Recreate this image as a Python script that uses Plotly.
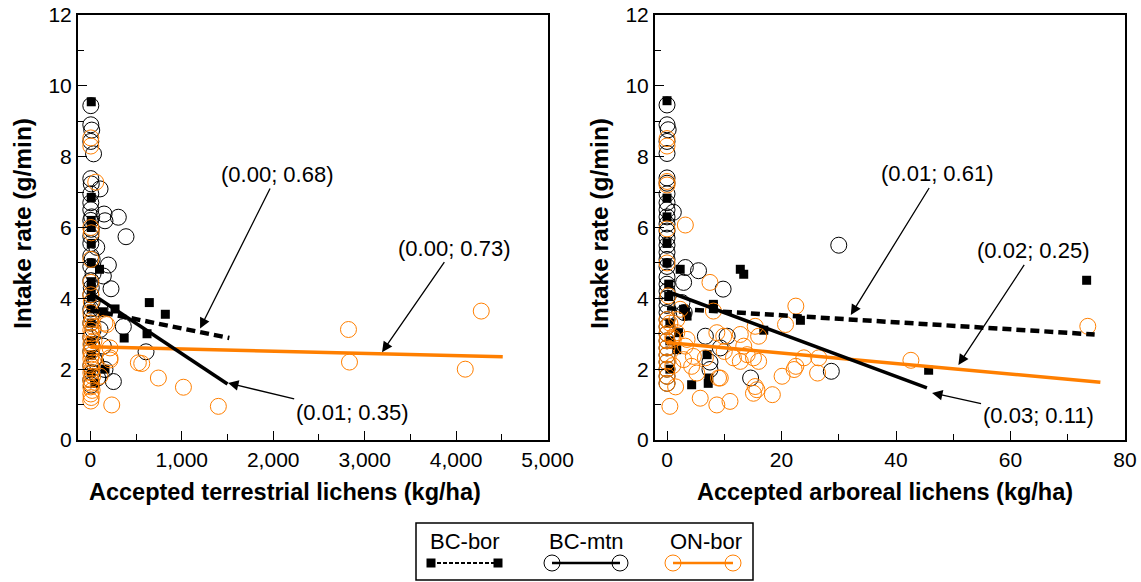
import plotly.graph_objects as go

W, H = 1141, 582
ORANGE = "#FF7F00"
FONT = "Liberation Sans, Arial, sans-serif"

# ---- Terrestrial lichens panel (kg/ha vs g/min) ----
terr_bcbor_x = [10, 10, 10, 10, 10, 100, 10, 10, 10, 140, 270, 645, 820, 370, 620, 160, 10, 10, 10, 10, 50, 10, 10]
terr_bcbor_y = [9.55, 6.85, 6.2, 5.55, 5.0, 4.82, 4.47, 4.05, 3.7, 3.62, 3.7, 3.88, 3.55, 2.88, 3.0, 2.0, 3.3, 2.8, 2.4, 1.9, 1.6, 4.3, 6.0]

terr_bcmtn_x = [5, 5, 15, 5, 35, 5, 10, 5, 5, 5, 15, 5, 10, 5, 5, 70, 5, 20, 5, 30, 5, 10, 5, 20, 5, 10, 5, 30, 5, 15, 5, 40, 5, 20, 5, 10,
                106, 150, 160, 306, 390, 197, 142, 226, 361, 609, 252, 160, 106, 106, 142, 60, 80]
terr_bcmtn_y = [9.44, 8.9, 8.75, 8.43, 8.08, 7.38, 7.23, 6.95, 6.7, 6.5, 6.3, 6.2, 5.95, 5.75, 5.55, 5.44, 5.2, 5.1, 4.9, 4.7, 4.5, 4.3, 4.1, 3.9, 3.7, 3.5, 3.3, 3.1, 2.9, 2.7, 2.5, 2.3, 2.1, 1.9, 1.7, 1.55,
                7.09, 6.38, 6.19, 6.29, 5.74, 4.94, 4.63, 4.27, 3.2, 2.49, 1.65, 1.99, 3.12, 3.7, 2.65, 2.2, 1.75]

terr_onbor_x = [5, 5, 59, 5, 10, 5, 5, 5, 10, 5, 20, 5, 30, 5, 15, 5, 40, 5, 20, 5, 10, 5, 30, 5, 15, 5, 25, 5, 10, 5, 20, 5, 10, 5,
                234, 525, 562, 744, 1018, 1400, 215, 215, 179, 2823, 2834, 4275, 4100, 160, 106, 215]
terr_onbor_y = [8.53, 8.3, 7.28, 6.0, 5.85, 5.1, 4.45, 4.1, 3.9, 3.6, 3.4, 3.3, 3.2, 3.1, 3.0, 2.9, 2.8, 2.7, 2.6, 2.5, 2.4, 2.3, 2.2, 2.1, 2.0, 1.9, 1.8, 1.7, 1.6, 1.5, 1.4, 1.3, 1.2, 1.1,
                0.99, 2.18, 2.16, 1.75, 1.49, 0.95, 2.32, 2.6, 3.26, 3.12, 2.2, 3.64, 2.0, 3.3, 1.8, 2.26]

# fitted lines: [x_start, x_end], [y_start, y_end]
terr_fit_bcbor = ([0, 1520], [3.67, 2.88])
terr_fit_bcmtn = ([0, 1500], [4.15, 1.58])
terr_fit_onbor = ([0, 4510], [2.63, 2.35])

# ---- Arboreal lichens panel ----
arb_bcbor_x = [0, 0, 0, 0, 0, 2.3, 0.3, 0.3, 2.9, 3.5, 8.1, 8.1, 12.8, 13.4, 16.9, 23.3, 7, 7.3, 7.2, 4.3, 2, 1.7, 73.3, 45.7, 0.5, 0.5, 0.5]
arb_bcbor_y = [9.58, 6.83, 6.3, 5.55, 5.0, 4.82, 4.4, 4.05, 3.69, 3.5, 3.83, 3.78, 4.82, 4.68, 3.1, 3.38, 2.41, 1.75, 1.6, 1.56, 3.03, 2.55, 4.51, 1.97, 3.3, 2.8, 2.0]

arb_bcmtn_x = [0, 0, 0.2, 0, 0, 0, 0, 0, 0, 0, 0, 0, 0, 0, 0, 0, 0, 0, 0, 0, 0, 0, 0, 0, 0, 0, 0, 0, 0, 0, 0, 0, 0, 0,
               1.1, 3.2, 5.5, 2.9, 9.8, 2.6, 6.7, 10.5, 9.3, 7.5, 7.5, 14.6, 28.7, 30, 3.0]
arb_bcmtn_y = [9.46, 8.9, 8.76, 8.43, 8.09, 7.4, 7.25, 6.95, 6.7, 6.5, 6.3, 6.1, 5.9, 5.7, 5.5, 5.3, 5.1, 4.9, 4.6, 4.4, 4.2, 4.0, 3.8, 3.6, 3.4, 3.2, 3.0, 2.8, 2.6, 2.4, 2.2, 2.0, 1.8, 1.6,
               6.43, 4.87, 4.78, 4.45, 4.26, 3.88, 2.93, 2.93, 2.6, 2.2, 1.99, 1.75, 1.94, 5.5, 3.6]

arb_onbor_x = [0, 0, 0, 0, 0, 0, 0.2, 0.5, 0, 0, 0, 0, 0, 0, 0, 0, 0, 0, 0.5, 1, 1, 1.5, 2.3, 1.7, 1.7, 1.1, 3.2, 7.5, 5.8, 8.7, 11,
               18.4, 15.7, 15.1, 20.1, 22.5, 22.5, 20.7, 16, 15.1, 12.8, 8.7, 8.1, 9, 11.6, 13.4, 14, 12.8, 4.6, 2.9, 3.2, 5.2, 4.3,
               15.4, 23.9, 26.5, 26.3, 22.2, 15.4, 6.7, 9.9, 3.5, 42.6, 73.5, 9.3, 16, 10]
arb_onbor_y = [8.51, 8.3, 7.3, 7.2, 5.96, 5.0, 4.07, 0.95, 3.4, 3.2, 3.0, 2.8, 2.6, 2.4, 2.2, 2.0, 1.8, 1.6, 3.3, 2.9, 2.1, 1.5, 3.69, 3.4, 3.03, 2.84, 6.07, 4.45, 1.18, 0.99, 1.09,
               1.28, 1.42, 1.32, 1.8, 2.08, 3.78, 3.26, 2.93, 2.32, 2.98, 3.03, 3.64, 1.75, 2.32, 2.65, 2.41, 2.22, 2.36, 2.27, 2.65, 1.89, 2.08,
               3.21, 2.32, 2.32, 1.89, 1.99, 1.51, 2.32, 2.93, 2.84, 2.25, 3.21, 1.75, 2.22, 2.5]

arb_fit_bcbor = ([0, 74.7], [3.72, 2.98])
arb_fit_bcmtn = ([0, 45.4], [4.2, 1.47])
arb_fit_onbor = ([0, 75.7], [2.75, 1.63])

# (R²; P) labels: text, tip x, tip y, text offset px
terr_labels = [("(0.00; 0.68)", 1200, 3.15, 77, -154),
               ("(0.00; 0.73)", 3190, 2.48, 72, -104),
               ("(0.01; 0.35)", 1506, 1.61, 124, 30)]
arb_labels = [("(0.01; 0.61)", 32.1, 3.53, 87, -141),
              ("(0.02; 0.25)", 50.9, 2.12, 75, -114),
              ("(0.03; 0.11)", 46.3, 1.33, 106, 23)]

series_names = ["BC-bor", "BC-mtn", "ON-bor"]

fig = go.Figure()


def add_panel(xa, ya, bcbor, bcmtn, onbor, fits):
    fig.add_trace(go.Scatter(x=bcbor[0], y=bcbor[1], mode="markers", xaxis=xa, yaxis=ya,
                             marker=dict(symbol="square", size=9, color="black", line=dict(width=0)),
                             showlegend=False))
    fig.add_trace(go.Scatter(x=bcmtn[0], y=bcmtn[1], mode="markers", xaxis=xa, yaxis=ya,
                             marker=dict(symbol="circle-open", size=16, color="black", line=dict(width=1)),
                             showlegend=False))
    fig.add_trace(go.Scatter(x=onbor[0], y=onbor[1], mode="markers", xaxis=xa, yaxis=ya,
                             marker=dict(symbol="circle-open", size=16, color=ORANGE, line=dict(width=1)),
                             showlegend=False))
    fb, fm, fo = fits
    fig.add_trace(go.Scatter(x=fo[0], y=fo[1], mode="lines", xaxis=xa, yaxis=ya,
                             line=dict(color=ORANGE, width=3.5), showlegend=False))
    fig.add_trace(go.Scatter(x=fm[0], y=fm[1], mode="lines", xaxis=xa, yaxis=ya,
                             line=dict(color="black", width=3.5), showlegend=False))
    fig.add_trace(go.Scatter(x=fb[0], y=fb[1], mode="lines", xaxis=xa, yaxis=ya,
                             line=dict(color="black", width=4.5, dash="9px,5px"), showlegend=False))


add_panel("x", "y", (terr_bcbor_x, terr_bcbor_y), (terr_bcmtn_x, terr_bcmtn_y),
          (terr_onbor_x, terr_onbor_y), (terr_fit_bcbor, terr_fit_bcmtn, terr_fit_onbor))
add_panel("x2", "y2", (arb_bcbor_x, arb_bcbor_y), (arb_bcmtn_x, arb_bcmtn_y),
          (arb_onbor_x, arb_onbor_y), (arb_fit_bcbor, arb_fit_bcmtn, arb_fit_onbor))

ydom = [1 - 440 / H, 1 - 15 / H]
tickfont = dict(family=FONT, size=21, color="black")

axis_common = dict(showline=True, mirror=True, linecolor="black", linewidth=2, showgrid=False,
                   zeroline=False, ticks="inside", ticklen=9, tickwidth=1.2, tickcolor="black",
                   tickfont=tickfont, automargin=False)

yaxis_kw = dict(axis_common, range=[0, 12], dtick=2, tick0=0, domain=ydom,
                minor=dict(ticks="inside", dtick=1, ticklen=6, tickcolor="black", tickwidth=1.2))

fig.update_layout(
    width=W, height=H,
    margin=dict(l=0, r=0, t=0, b=0, pad=0, autoexpand=False),
    paper_bgcolor="white", plot_bgcolor="white",
    font=dict(family=FONT, color="black"),
    xaxis=dict(axis_common, domain=[78 / W, 548 / W], range=[-135, 5005], dtick=1000, tick0=0,
               tickformat=",d",
               minor=dict(ticks="inside", dtick=500, ticklen=6, tickcolor="black", tickwidth=1.2)),
    yaxis=dict(yaxis_kw, anchor="x"),
    xaxis2=dict(axis_common, domain=[655 / W, 1125 / W], range=[-2.1, 80], dtick=20, tick0=0,
                anchor="y2",
                minor=dict(ticks="inside", dtick=10, ticklen=6, tickcolor="black", tickwidth=1.2)),
    yaxis2=dict(yaxis_kw, anchor="x2"),
)

ann_font = dict(family=FONT, size=22, color="black")
annotations = []
for (txt, tx, ty, ox, oy) in terr_labels:
    annotations.append(dict(x=tx, y=ty, xref="x", yref="y", text=txt, ax=ox, ay=oy,
                            showarrow=True, arrowhead=2, arrowsize=1.6, arrowwidth=1.3,
                            arrowcolor="black", font=ann_font))
for (txt, tx, ty, ox, oy) in arb_labels:
    annotations.append(dict(x=tx, y=ty, xref="x2", yref="y2", text=txt, ax=ox, ay=oy,
                            showarrow=True, arrowhead=2, arrowsize=1.6, arrowwidth=1.3,
                            arrowcolor="black", font=ann_font))

for (txt, cx, cy, ang, fs) in [("<b>Intake rate (g/min)</b>", 23, 224, -90, 24.5),
                               ("<b>Intake rate (g/min)</b>", 600, 224, -90, 24.5),
                               ("<b>Accepted terrestrial lichens (kg/ha)</b>", 285, 492, 0, 23.5),
                               ("<b>Accepted arboreal lichens (kg/ha)</b>", 885, 492, 0, 23.5)]:
    annotations.append(dict(x=cx / W, y=1 - cy / H, xref="paper", yref="paper", text=txt,
                            showarrow=False, textangle=ang,
                            font=dict(family=FONT, size=fs, color="black"),
                            xanchor="center", yanchor="middle"))

# legend: names above sample symbols
legend_centers = [465, 586, 706]
for name, cx in zip(series_names, legend_centers):
    annotations.append(dict(x=cx / W, y=1 - 541 / H, xref="paper", yref="paper", text=name,
                            showarrow=False, font=ann_font,
                            xanchor="center", yanchor="middle"))
fig.update_layout(annotations=annotations)


def px(x, y):
    return x / W, 1 - y / H


shapes = []
x0, y0 = px(416, 523)
x1, y1 = px(753, 580)
shapes.append(dict(type="rect", xref="paper", yref="paper", x0=x0, y0=y1, x1=x1, y1=y0,
                   line=dict(color="black", width=1.5), fillcolor="rgba(0,0,0,0)"))
ly = 563
# BC-bor sample
a, b = px(431, ly), px(498, ly)
shapes.append(dict(type="line", xref="paper", yref="paper", x0=a[0], y0=a[1], x1=b[0], y1=b[1],
                   line=dict(color="black", width=2, dash="4px,2px")))
for sx in (431, 498):
    p0, p1 = px(sx - 4.5, ly - 4.5), px(sx + 4.5, ly + 4.5)
    shapes.append(dict(type="rect", xref="paper", yref="paper", x0=p0[0], y0=p1[1], x1=p1[0], y1=p0[1],
                       line=dict(width=0), fillcolor="black"))
# BC-mtn and ON-bor samples
for (lx0, lx1, col) in [(552, 620, "black"), (673, 733, ORANGE)]:
    a, b = px(lx0, ly), px(lx1, ly)
    shapes.append(dict(type="line", xref="paper", yref="paper", x0=a[0], y0=a[1], x1=b[0], y1=b[1],
                       line=dict(color=col, width=2.5)))
    for sx in (lx0, lx1):
        p0, p1 = px(sx - 8, ly - 8), px(sx + 8, ly + 8)
        shapes.append(dict(type="circle", xref="paper", yref="paper", x0=p0[0], y0=p1[1], x1=p1[0], y1=p0[1],
                           line=dict(color=col, width=1), fillcolor="rgba(0,0,0,0)"))
fig.update_layout(shapes=shapes)

fig.write_html("out.html")
